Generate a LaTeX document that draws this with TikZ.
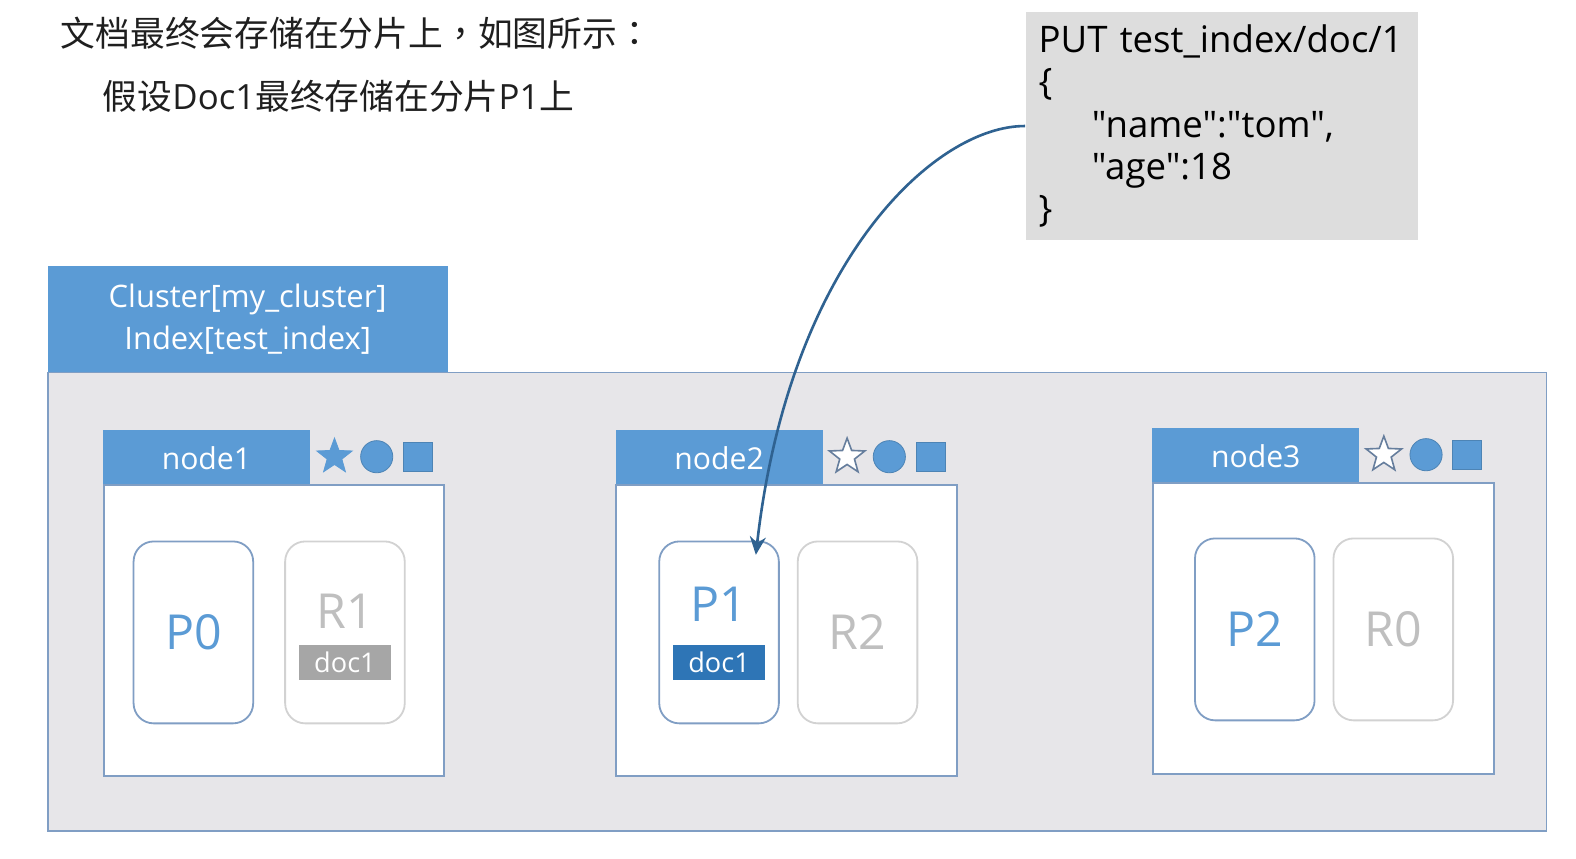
\documentclass[tikz,border=0pt]{standalone}
\usepackage{fontspec}
\setmainfont{Open Sans}[Ligatures=TeXOff]
\newfontfamily\cjk{Noto Sans CJK SC}
\newfontfamily\cjktc{Noto Sans CJK TC}
\usetikzlibrary{shapes.geometric, arrows.meta, positioning}

\definecolor{esblue}{RGB}{91,155,213}
\definecolor{esedge}{RGB}{128,158,196}
\definecolor{esgray}{RGB}{231,230,233}
\definecolor{esdark}{RGB}{46,117,182}
\definecolor{repgray}{RGB}{191,191,191}
\definecolor{repline}{RGB}{210,210,210}
\definecolor{docgray}{RGB}{166,166,166}
\definecolor{codegray}{RGB}{221,221,221}
\definecolor{arrowblue}{RGB}{47,98,145}

\begin{document}
\begin{tikzpicture}[
    x=0.5pt, y=-0.5pt,
    title/.style={anchor=west, inner sep=0pt, text=black!88, font=\cjk\fontsize{17.3}{20}\selectfont},
    codebox/.style={anchor=north west, fill=codegray, minimum width=195pt, minimum height=113pt, inner xsep=6.5pt, align=left, text width=182pt, font=\fontsize{18.2}{21}\selectfont},
    clusterhdr/.style={anchor=north west, fill=esblue, text=white, minimum width=199pt, minimum height=53pt, inner sep=0pt, align=center, font=\fontsize{15.4}{21}\selectfont},
    clusterbody/.style={anchor=north west, fill=esgray, draw=esedge, line width=0.8pt, minimum width=745.5pt, minimum height=228pt, inner sep=0pt},
    hdr/.style={anchor=north west, fill=esblue, text=white, minimum width=103pt, minimum height=27pt, inner sep=0pt, text height=13pt, font=\fontsize{15}{18}\selectfont},
    hostbox/.style={fill=white, draw=esedge, line width=1pt, minimum width=169.5pt, minimum height=144.5pt, inner sep=0pt},
    shard/.style={fill=white, rounded corners=10pt, line width=0.9pt, minimum width=59.5pt, minimum height=90.5pt, inner sep=0pt, font=\fontsize{24}{28}\selectfont},
    primary/.style={shard, draw=esedge, text=esblue},
    replica/.style={shard, draw=repline, text=repgray},
    shardlabel/.style={inner sep=0pt, font=\fontsize{24}{28}\selectfont},
    docchip/.style={minimum width=46pt, minimum height=17.5pt, inner sep=0pt, text=white, font=\fontsize{13.5}{15}\selectfont},
    roleon/.style={star, star points=5, star point ratio=2.4, minimum size=18.5pt, inner sep=0pt, fill=esblue, draw=esblue},
    roleoff/.style={star, star points=5, star point ratio=2.4, minimum size=18.5pt, inner sep=0pt, fill=white, draw=esedge!80!black, line width=0.8pt},
    roledot/.style={circle, minimum size=16pt, inner sep=0pt, fill=esblue, draw=esblue!85!black, line width=0.4pt},
    rolesq/.style={rectangle, minimum size=14.5pt, inner sep=0pt, fill=esblue, draw=esblue!85!black, line width=0.4pt},
    flow/.style={-{Stealth[length=9pt, width=8pt, inset=3pt]}, draw=arrowblue, line width=1.3pt}
]
\useasboundingbox [fill=white] (0,0) rectangle (1568,854);

% text at the top
\node (line1) [title] at (60,33) {文档最终会存储在分片上{\cjktc ，}如图所示{\cjktc ：}};
\node (line2) [title] at (102,96) {假设{\rmfamily Doc1}最终存储在分片{\rmfamily P1}上};

\node (put) [codebox] at (1020,12) {PUT test\_index/doc/1\\
{\{}\\
\hspace*{26.5pt}"name":"tom",\\
\hspace*{26.5pt}"age":18\\
{\}}};

% cluster
\node (cluster) [clusterhdr] at (47,264) {Cluster[my\_cluster]\\Index[test\_index]};
\node (body) [clusterbody] at (47,370) {};

% node1
\node (hdr1) [hdr] at (102,427) {node1};
\node (host1) [hostbox, below right=0pt and 0pt of hdr1.south west] {};
\node (star1) [roleon] at ([xshift=12pt]hdr1.east) {};
\node (dot1) [roledot] at ([xshift=33pt]hdr1.east) {};
\node (sq1) [rolesq] at ([xshift=53.5pt]hdr1.east) {};
\node (p0) [primary, below right=28pt and 15pt of host1.north west] {P0};
\node (r1) [replica, right=15pt of p0] {};
\node (r1lbl) [shardlabel, text=repgray] at ([yshift=10.5pt]r1.center) {R1};
\node (r1doc) [docchip, fill=docgray] at ([yshift=-15pt]r1.center) {doc1};

% node2
\node (hdr2) [hdr] at (612,427) {node2};
\node (host2) [hostbox, below right=0pt and 0pt of hdr2.south west] {};
\node (star2) [roleoff] at ([xshift=12pt]hdr2.east) {};
\node (dot2) [roledot] at ([xshift=33pt]hdr2.east) {};
\node (sq2) [rolesq] at ([xshift=53.5pt]hdr2.east) {};
\node (p1) [primary, below right=28pt and 21.5pt of host2.north west] {};
\node (r2) [replica, right=8.5pt of p1] {R2};
\node (p1lbl) [shardlabel, text=esblue] at ([yshift=14pt]p1.center) {P1};
\node (p1doc) [docchip, fill=esdark] at ([yshift=-15pt]p1.center) {doc1};

% node3
\node (hdr3) [hdr] at (1146,425) {node3};
\node (host3) [hostbox, below right=0pt and 0pt of hdr3.south west] {};
\node (star3) [roleoff] at ([xshift=12pt]hdr3.east) {};
\node (dot3) [roledot] at ([xshift=33pt]hdr3.east) {};
\node (sq3) [rolesq] at ([xshift=53.5pt]hdr3.east) {};
\node (p2) [primary, below right=27.5pt and 21pt of host3.north west] {P2};
\node (r0) [replica, right=8.5pt of p2] {R0};

% the request lands on P1
\coordinate (hit) at (752,552);
\draw [flow] (put.west) .. controls (930,125) and (785,260) .. (hit);

\end{tikzpicture}
\end{document}
